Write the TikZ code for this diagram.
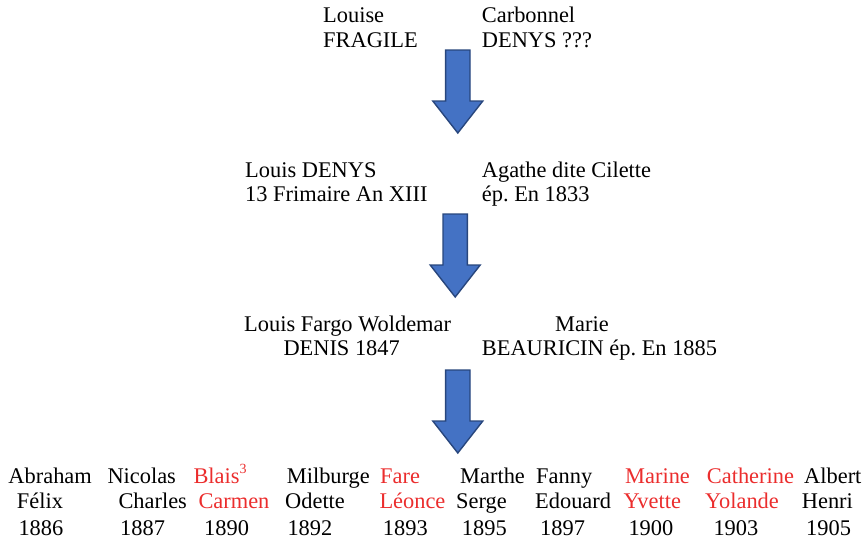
\documentclass[tikz,border=0pt]{standalone}
\usepackage{fontspec}
\setmainfont{Liberation Serif}
\frenchspacing
\definecolor{arrowfill}{RGB}{68,114,196}
\definecolor{arrowline}{RGB}{40,70,125}
\definecolor{redname}{RGB}{235,45,45}
\tikzset{
  txt/.style={anchor=base west,inner sep=0pt,font=\fontsize{22.4}{25}\selectfont,text=black},
  redtxt/.style={txt,text=redname},
  barrow/.style={fill=arrowfill,draw=arrowline,line width=1.4pt,line join=miter}
}
\newcommand\persline[5][txt]{\node[#1] (#2) at (#3,#4) {#5};}
\newcommand\blockarrow[3]{%
  \coordinate (#1) at (#2,#3);
  \draw[barrow] ($(#1)+(-12.2,0)$) -- ++(24.4,0) -- ++(0,51) -- ++(12.8,0)
    -- ($(#1)+(0,83)$) -- ($(#1)+(-25,51)$) -- ++(12.8,0) -- cycle;}
\usetikzlibrary{calc}
\begin{document}
\begin{tikzpicture}[x=1pt,y=-1pt]
\useasboundingbox (0,0) rectangle (867,542);
% generation 1
\persline{g1a}{323}{22}{Louise}
\persline{g1b}{323}{47}{FRAGILE}
\persline{g1c}{481.7}{22}{Carbonnel}
\persline{g1d}{481.7}{47}{DENYS ???}
\blockarrow{a1}{457.8}{50}
% generation 2
\persline{g2a}{245}{177}{Louis DENYS}
\persline{g2b}{245}{201.7}{13 Frimaire An XIII}
\persline{g2c}{481.7}{177}{Agathe dite Cilette}
\persline{g2d}{481.7}{201.7}{ép. En 1833}
\blockarrow{a2}{455.2}{214}
% generation 3
\persline{g3a}{244}{331.7}{Louis Fargo Woldemar}
\persline{g3b}{283.3}{355}{DENIS 1847}
\persline{g3c}{555}{331.7}{Marie}
\persline{g3d}{481.7}{355}{BEAURICIN ép. En 1885}
\blockarrow{a3}{457.8}{370}
% children
\persline{c1a}{8.3}{483.3}{Abraham}
\persline{c1b}{16.7}{508.3}{Félix}
\persline{c1c}{18.3}{535}{1886}
\persline{c2a}{107.3}{483.3}{Nicolas}
\persline{c2b}{118.3}{508.3}{Charles}
\persline{c2c}{120}{535}{1887}
\persline[redtxt]{c3a}{193.3}{483.3}{Blais\raisebox{0.45em}{\fontsize{14}{14}\selectfont 3}}
\persline[redtxt]{c3b}{198.3}{508.3}{Carmen}
\persline{c3c}{204}{535}{1890}
\persline{c4a}{286.7}{483.3}{Milburge}
\persline{c4b}{285}{508.3}{Odette}
\persline{c4c}{287.3}{535}{1892}
\persline[redtxt]{c5a}{380}{483.3}{Fare}
\persline[redtxt]{c5b}{379.3}{508.3}{Léonce}
\persline{c5c}{382.7}{535}{1893}
\persline{c6a}{460}{483.3}{Marthe}
\persline{c6b}{456}{508.3}{Serge}
\persline{c6c}{461.7}{535}{1895}
\persline{c7a}{536}{483.3}{Fanny}
\persline{c7b}{535}{508.3}{Edouard}
\persline{c7c}{540}{535}{1897}
\persline[redtxt]{c8a}{625}{483.3}{Marine}
\persline[redtxt]{c8b}{623.3}{508.3}{Yvette}
\persline{c8c}{628.3}{535}{1900}
\persline[redtxt]{c9a}{706.7}{483.3}{Catherine}
\persline[redtxt]{c9b}{705}{508.3}{Yolande}
\persline{c9c}{713.3}{535}{1903}
\persline{c10a}{804}{483.3}{Albert}
\persline{c10b}{801.7}{508.3}{Henri}
\persline{c10c}{806}{535}{1905}
\end{tikzpicture}
\end{document}
